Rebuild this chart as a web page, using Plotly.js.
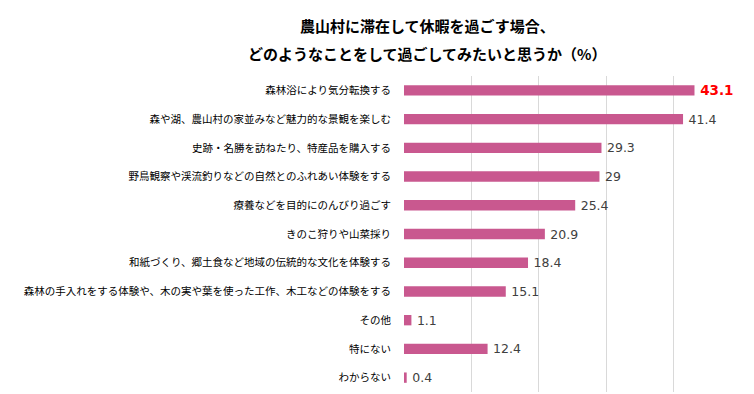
<!DOCTYPE html>
<html><head><meta charset="utf-8">
<script src="https://cdn.plot.ly/plotly-3.0.1.min.js"></script>
<style>html,body{margin:0;padding:0;background:#fff}</style>
</head><body><div id="chart" style="width:754px;height:394px"></div>
<script>
const categories = [
  "森林浴により気分転換する",
  "森や湖、農山村の家並みなど魅力的な景観を楽しむ",
  "史跡・名勝を訪ねたり、特産品を購入する",
  "野鳥観察や渓流釣りなどの自然とのふれあい体験をする",
  "療養などを目的にのんびり過ごす",
  "きのこ狩りや山菜採り",
  "和紙づくり、郷土食など地域の伝統的な文化を体験する",
  "森林の手入れをする体験や、木の実や葉を使った工作、木工などの体験をする",
  "その他",
  "特にない",
  "わからない"
];
const values = [43.1, 41.4, 29.3, 29, 25.4, 20.9, 18.4, 15.1, 1.1, 12.4, 0.4];
const titleLines = ["農山村に滞在して休暇を過ごす場合、", "どのようなことをして過ごしてみたいと思うか（%）"];
const xTicks = [0, 10, 20, 30, 40, 50];

const maxV = Math.max(...values);
const labels = values.map(v => "\u2009" + (v === maxV ? "<b>" + v + "</b>" : String(v)));
const colors = values.map(v => v === maxV ? "#FF0000" : "#404040");
const sizes = values.map(v => v === maxV ? 13.5 : 12.5);

const trace = {
  type: "bar", orientation: "h",
  x: values, y: categories,
  marker: {color: "#C9588F"},
  width: 0.36,
  text: labels, textposition: "outside", cliponaxis: false, constraintext: "none",
  textfont: {family: "DejaVu Sans, Verdana, sans-serif", color: colors, size: sizes},
  hoverinfo: "x+y"
};

const titleX = 0.07;
const layout = {
  width: 754, height: 394,
  margin: {l: 404, r: 13, t: 76, b: 2, pad: 0},
  paper_bgcolor: "#fff", plot_bgcolor: "#fff",
  showlegend: false,
  font: {family: "Noto Sans CJK JP, sans-serif", color: "#000"},
  xaxis: {range: [0, 50], tickvals: xTicks, showticklabels: false, showgrid: true,
          gridcolor: "#D9D9D9", gridwidth: 1, zeroline: false, showline: false, fixedrange: true},
  yaxis: {type: "category", autorange: "reversed", showgrid: false, zeroline: false,
          ticks: "", ticklabelstandoff: 12, tickfont: {size: 10.5, color: "#000"}},
  annotations: [
    {text: "<b>" + titleLines[0] + "</b>", xref: "paper", yref: "paper", x: titleX, y: 1, yshift: 51,
     xanchor: "center", yanchor: "middle", showarrow: false,
     font: {size: 15, color: "#000", family: "Noto Sans CJK JP, sans-serif"}},
    {text: "<b>" + titleLines[1] + "</b>", xref: "paper", yref: "paper", x: titleX, y: 1, yshift: 23,
     xanchor: "center", yanchor: "middle", showarrow: false,
     font: {size: 15, color: "#000", family: "Noto Sans CJK JP, sans-serif"}}
  ]
};
Plotly.newPlot("chart", [trace], layout, {displayModeBar: false, staticPlot: true});
</script></body></html>
